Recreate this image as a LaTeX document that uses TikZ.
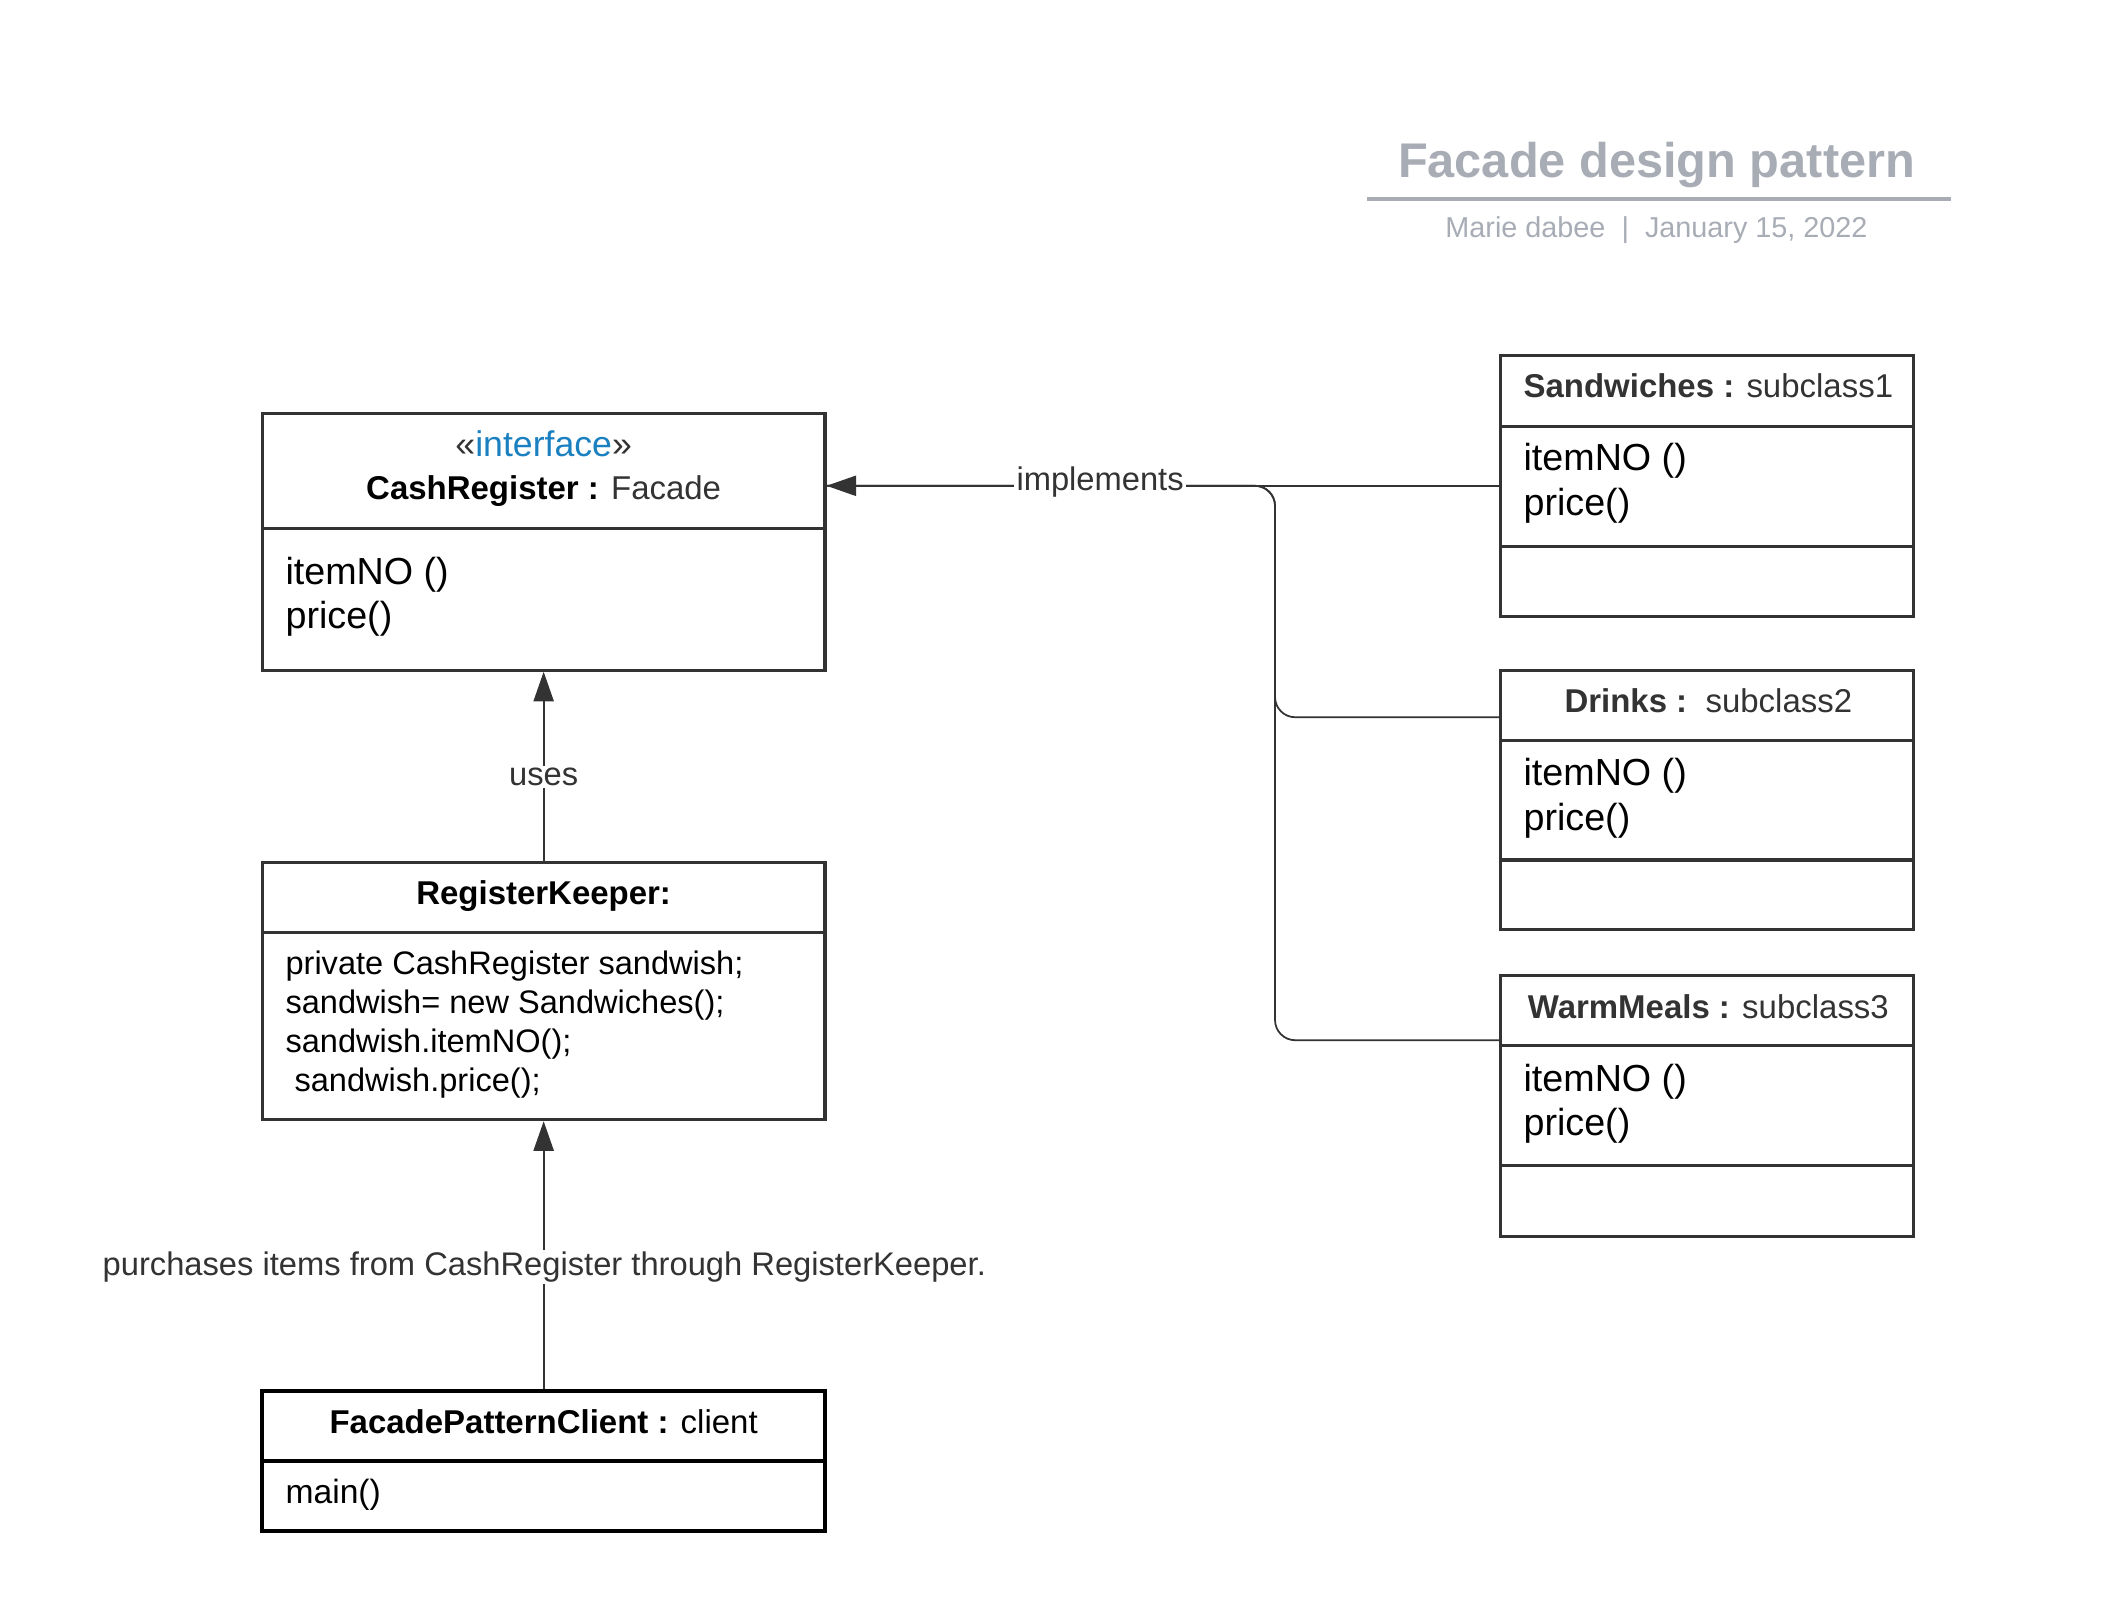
\documentclass[tikz,border=0pt]{standalone}
\usepackage{fontspec}
\setmainfont{Liberation Sans}
\usetikzlibrary{arrows.meta}
\definecolor{edge}{HTML}{333333}
\definecolor{titlegray}{HTML}{A7ACB5}
\definecolor{ifblue}{HTML}{1A80C0}
\begin{document}
\begin{tikzpicture}[x=1pt,y=-1pt,
  box/.style={draw=edge, line width=2.4pt, inner sep=0pt},
  boxc/.style={draw=black, line width=3pt, inner sep=0pt},
  divline/.style={draw=edge, line width=2.4pt},
  divlinec/.style={draw=black, line width=3pt},
  conn/.style={draw=edge, line width=1.3pt},
  tip/.style={-{Triangle[length=22pt,width=15pt]}},
  hdr/.style={font=\fontsize{24.5}{28}\selectfont, anchor=base, inner sep=0pt},
  meth/.style={font=\fontsize{28}{32}\selectfont, anchor=base west, inner sep=0pt},
  code/.style={font=\fontsize{24.2}{29}\selectfont, anchor=base west, inner sep=0pt},
  lbl/.style={font=\fontsize{24.3}{28}\selectfont, fill=white, text=edge, inner sep=1.5pt}
]
\useasboundingbox (0,0) rectangle (1566.5,1189.7);

% Title block
\node[anchor=base, font=\bfseries\fontsize{36.2}{40}\selectfont, text=titlegray, inner sep=0pt] (title) at (1231,132) {Facade design pattern};
\draw[titlegray, line width=3pt] (1016,148) -- (1450,148);
\node[anchor=base, font=\fontsize{21.4}{24}\selectfont, text=titlegray, inner sep=0pt] (sub) at (1231,176.5) {Marie dabee~~|~~January 15, 2022};

% CashRegister
\node[box, minimum width=418pt, minimum height=191pt] (cash) at (404,402.5) {};
\draw[divline] (195,393) -- (613,393);
\node[hdr, text=edge, font=\fontsize{26.5}{30}\selectfont] (cashst) at (404,339.5) {«\textcolor{ifblue}{interface}»};
\node[hdr] (cashname) at (404,371.5) {\textbf{CashRegister :} \textcolor{edge}{Facade}};
\node[meth] (cashm1) at (212,434) {itemNO ()};
\node[meth] (cashm2) at (212,467) {price()};

% RegisterKeeper
\node[box, minimum width=418pt, minimum height=191pt] (rk) at (404,736.5) {};
\draw[divline] (195,693) -- (613,693);
\node[hdr] (rkname) at (404,672.5) {\textbf{RegisterKeeper:}};
\node[code] (rk1) at (212,724) {private CashRegister sandwish;};
\node[code] (rk2) at (212,753) {sandwish= new Sandwiches();};
\node[code] (rk3) at (212,782) {sandwish.itemNO();};
\node[code] (rk4) at (212,811) {\ sandwish.price();};

% FacadePatternClient
\node[boxc, minimum width=418pt, minimum height=104pt] (client) at (404,1086) {};
\draw[divlinec] (195,1086) -- (613,1086);
\node[hdr] (clname) at (404,1065) {\textbf{FacadePatternClient :} client};
\node[code, font=\fontsize{25}{29}\selectfont] (clm) at (212,1117) {main()};

% Sandwiches
\node[box, minimum width=307pt, minimum height=194pt] (sand) at (1268.5,361) {};
\draw[divline] (1115,317) -- (1422,317);
\draw[divline] (1115,406) -- (1422,406);
\node[hdr, text=edge] (sandname) at (1269.5,295.5) {\textbf{Sandwiches :} subclass1};
\node[meth] (sandm1) at (1132,350) {itemNO ()};
\node[meth] (sandm2) at (1132,383) {price()};

% Drinks
\node[box, minimum width=307pt, minimum height=193pt] (drinks) at (1268.5,594.5) {};
\draw[divline] (1115,550) -- (1422,550);
\draw[divline] (1115,639) -- (1422,639);
\node[hdr, text=edge] (drinksname) at (1269.5,529.5) {\textbf{Drinks :}~~subclass2};
\node[meth] (drinksm1) at (1132,584) {itemNO ()};
\node[meth] (drinksm2) at (1132,617) {price()};

% WarmMeals
\node[box, minimum width=307pt, minimum height=194pt] (warm) at (1268.5,822) {};
\draw[divline] (1115,777) -- (1422,777);
\draw[divline] (1115,866) -- (1422,866);
\node[hdr, text=edge] (warmname) at (1269.5,756.5) {\textbf{WarmMeals :} subclass3};
\node[meth] (warmm1) at (1132,811) {itemNO ()};
\node[meth] (warmm2) at (1132,844) {price()};

% Connectors
\coordinate (dIn) at (1113.8,533);
\coordinate (wIn) at (1113.8,773);
\coordinate (bus) at (947.5,361);
\draw[conn, rounded corners=15pt] (dIn) -| (bus) -- (cash.east |- sand.west);
\draw[conn, rounded corners=15pt] (wIn) -| (bus) -- (cash.east |- sand.west);
\draw[conn, tip] (sand.west) -- (cash.east |- sand.west);
\node[lbl] (impl) at (817.5,358) {implements};

\draw[conn, tip] (rk.north) -- (cash.south);
\node[lbl] (uses) at (404,577.5) {uses};

\draw[conn, tip] (client.north) -- (rk.south);
\node[lbl] (purch) at (404.5,941.5) {purchases items from CashRegister through RegisterKeeper.};
\end{tikzpicture}
\end{document}
